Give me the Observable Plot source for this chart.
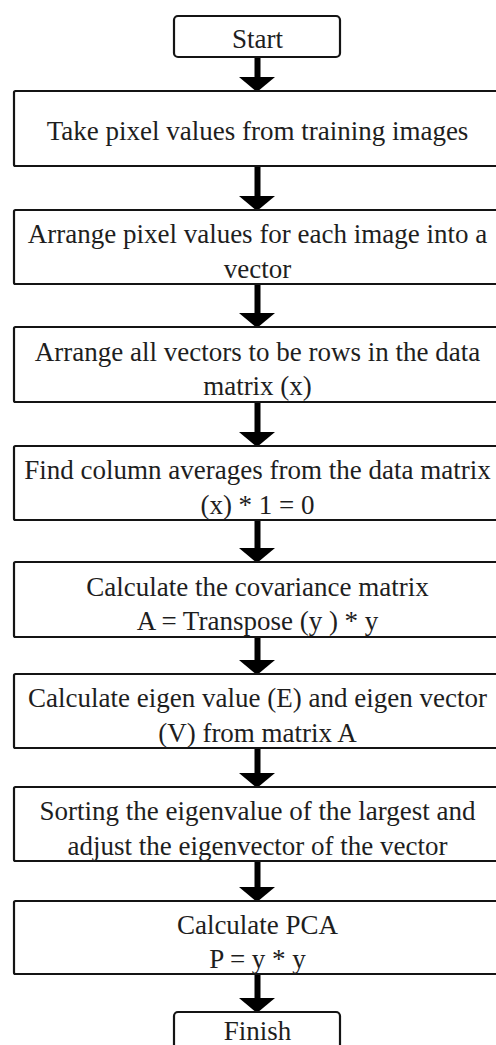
<!DOCTYPE html>
<html>
<head>
<meta charset="utf-8">
<script src="https://cdn.jsdelivr.net/npm/d3@7"></script>
<script src="https://cdn.jsdelivr.net/npm/@observablehq/plot@0.6"></script>
<style>
  html, body { margin: 0; padding: 0; overflow: hidden; background: #fff; }
  #chart svg { overflow: hidden; display: block; }
  #chart svg text { font-family: "Liberation Serif", "Times New Roman", Times, "DejaVu Serif", serif !important; }
</style>
</head>
<body>
<div id="chart"></div>
<script>
// ---- data: the flowchart steps ----
const stepLabels = [
  "Start",
  "Take pixel values from training images",
  "Arrange pixel values for each image into a\nvector",
  "Arrange all vectors to be rows in the data\nmatrix (x)",
  "Find column averages from the data matrix\n(x) * 1 = 0",
  "Calculate the covariance matrix\nA = Transpose (y ) * y",
  "Calculate eigen value (E) and eigen vector\n(V) from matrix A",
  "Sorting the eigenvalue of the largest and\nadjust the eigenvector of the vector",
  "Calculate PCA\nP = y * y",
  "Finish"
];
const stepKinds = ["terminal", "process", "process", "process", "process",
                   "process", "process", "process", "process", "terminal"];

// ---- layout (pixel frame, separate from the data) ----
const W = 496, H = 1045;
const boxTop    = [16, 91, 210, 327, 446, 562, 674, 787, 901, 1012];
const boxBottom = [57, 166, 284, 402, 520, 637, 748, 861, 974, 1050];
const cx = 257;
const frame = {
  terminal: {x1: 174, x2: 340},
  process:  {x1: 14,  x2: 504}
};
const headH = 14, headHalf = 18, shaftW = 6;

const steps = stepLabels.map((label, i) => ({
  label, kind: stepKinds[i],
  x1: frame[stepKinds[i]].x1, x2: frame[stepKinds[i]].x2,
  y1: boxTop[i], y2: boxBottom[i],
  ym: (boxTop[i] + boxBottom[i]) / 2 + (label.includes("\n") ? 2 : 0) - (i === stepLabels.length - 1 ? 3 : 0)
}));

const shafts = [], heads = [];
for (let i = 0; i < steps.length - 1; i++) {
  const from = boxBottom[i], to = boxTop[i + 1];
  shafts.push({x: cx, y1: from, y2: to - headH + 1});
  heads.push({id: i, x: cx - headHalf, y1: to - headH, y2: to - headH});
  heads.push({id: i, x: cx,            y1: to - headH, y2: to + 1});
  heads.push({id: i, x: cx + headHalf, y1: to - headH, y2: to - headH});
}

const chart = Plot.plot({
  width: W, height: H,
  margin: 0,
  x: {domain: [0, W], range: [0, W], axis: null},
  y: {domain: [0, H], range: [0, H], axis: null},
  style: {background: "#fff"},
  marks: [
    Plot.ruleX(shafts, {x: "x", y1: "y1", y2: "y2", stroke: "#000", strokeWidth: shaftW}),
    Plot.areaY(heads, {x: "x", y1: "y1", y2: "y2", z: "id", fill: "#000", curve: "linear"}),
    Plot.rect(steps.filter(d => d.kind === "process"),
      {x1: "x1", x2: "x2", y1: "y1", y2: "y2", fill: "#fff", stroke: "#141414", strokeWidth: 2.2, rx: 1.5}),
    Plot.rect(steps.filter(d => d.kind === "terminal"),
      {x1: "x1", x2: "x2", y1: "y1", y2: "y2", fill: "#fff", stroke: "#141414", strokeWidth: 2.2, rx: 4}),
    Plot.text(steps, {
      x: cx, y: "ym", text: "label",
      fontFamily: "Liberation Serif",
      fontSize: 27, lineHeight: 1.28, fill: "#1e1e1e",
      textAnchor: "middle", lineAnchor: "middle"
    })
  ]
});
document.getElementById("chart").append(chart);
</script>
</body>
</html>
